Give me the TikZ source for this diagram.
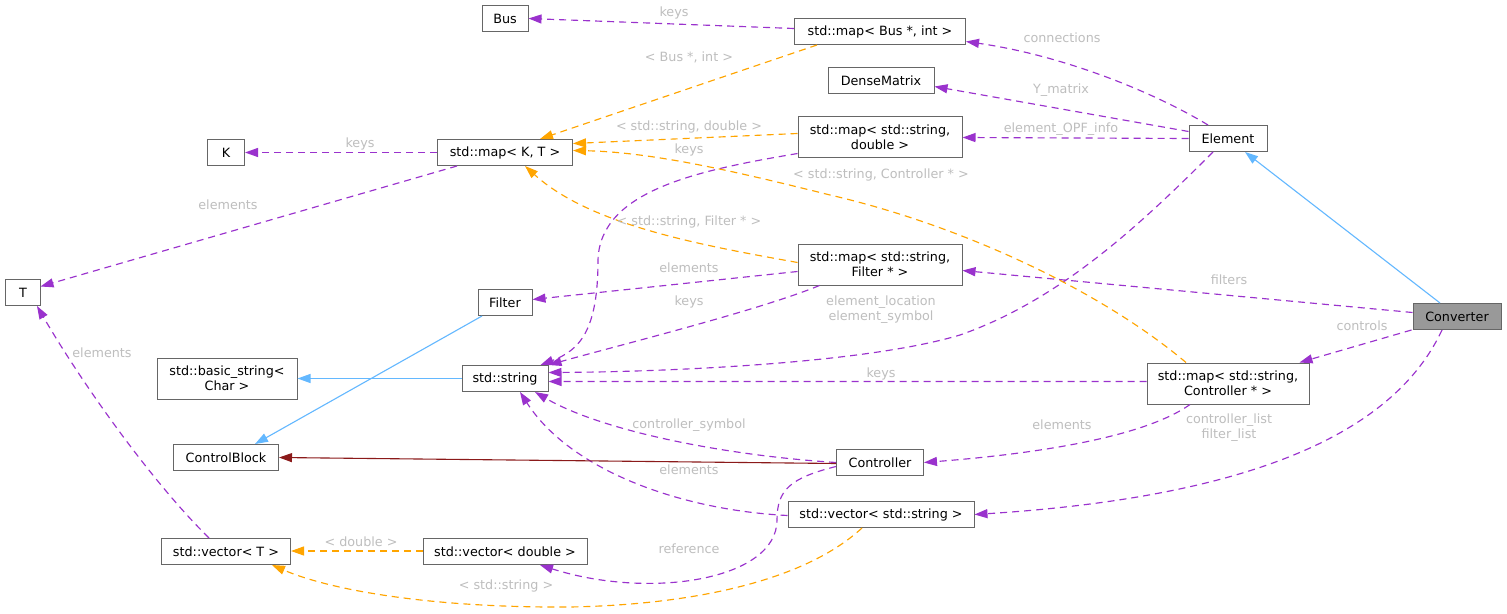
\documentclass[tikz,border=0pt]{standalone}
\usepackage{fontspec}
\setmainfont{DejaVu Sans}
\usetikzlibrary{arrows.meta,calc}
\definecolor{usec}{HTML}{9A32CD}
\definecolor{tplc}{HTML}{FFA500}
\definecolor{pubc}{HTML}{63B8FF}
\definecolor{proc}{HTML}{8B1A1A}
\definecolor{bordc}{HTML}{666666}
\definecolor{labc}{HTML}{BEBEBE}
\definecolor{convc}{HTML}{999999}
\begin{document}
\begin{tikzpicture}[x=1bp,y=-1bp,
  every node/.style={font=\fontsize{12.8}{15}\selectfont},
  box/.style={draw=bordc, line width=1bp, fill=white, inner sep=0pt, minimum height=26bp, align=center},
  dbox/.style={box, minimum height=41bp},
  lab/.style={text=labc, inner sep=0pt, align=center},
  tipa/.style={-{Triangle[length=13bp,width=9bp]}},
  usage/.style={draw=usec, line width=1.15bp, dash pattern=on 7bp off 5bp, tipa},
  tpl/.style={draw=tplc, line width=1.15bp, dash pattern=on 7bp off 5bp, tipa},
  pub/.style={draw=pubc, line width=1.1bp, tipa},
  prot/.style={draw=proc, line width=1.1bp, tipa}]
\fill[white] (0,0) rectangle (1507,614);
\useasboundingbox (0,0) rectangle (1507,614);
% nodes
\node[box, minimum width=46bp] (bus) at (505,18.5) {Bus};
\node[box, minimum width=171bp] (mapbus) at (880,31.5) {std::map< Bus *, int >};
\node[box, minimum width=106bp] (dense) at (881,80.5) {DenseMatrix};
\node[dbox, minimum width=164bp] (mapsd) at (880,137.5) {std::map< std::string,\\double >};
\node[box, minimum width=78bp] (elem) at (1228,138.5) {Element};
\node[box, minimum width=37bp] (K) at (226,152.5) {K};
\node[box, minimum width=135bp] (mapKT) at (505,152.5) {std::map< K, T >};
\node[box, minimum width=34bp] (T) at (23,292.5) {T};
\node[dbox, minimum width=164bp] (mapsf) at (880,264.5) {std::map< std::string,\\Filter * >};
\node[box, minimum width=54bp] (filter) at (505,302.5) {Filter};
\node[box, minimum width=88bp, fill=convc] (conv) at (1457,316.5) {Converter};
\node[dbox, minimum width=140bp] (bstr) at (227,378.5) {std::basic\_string<\\Char >};
\node[box, minimum width=86bp] (str) at (505,378.5) {std::string};
\node[dbox, minimum width=162bp] (mapsc) at (1228,383.5) {std::map< std::string,\\Controller * >};
\node[box, minimum width=105bp] (cblock) at (226,457.5) {ControlBlock};
\node[box, minimum width=87bp] (ctrl) at (880,462.5) {Controller};
\node[box, minimum width=186bp] (vecstr) at (881,514.5) {std::vector< std::string >};
\node[box, minimum width=129bp] (vecT) at (226,551.5) {std::vector< T >};
\node[box, minimum width=164bp] (vecd) at (505,551.5) {std::vector< double >};
% usage edges
\draw[usage] ([yshift=3bp]mapbus.west) -- (bus.east);
\draw[usage] ([xshift=-20bp]elem.north) .. controls (1150,90) and (1060,55) .. ([yshift=-10bp]mapbus.east);
\draw[usage] ([yshift=7bp]elem.west) -- ([yshift=-6bp]dense.east);
\draw[usage] (elem.west) -- (mapsd.east);
\draw[usage] (mapKT.west) -- (K.east);
\draw[usage] ([xshift=20bp]mapKT.south west) -- ([yshift=6bp]T.east);
\draw[usage] ([xshift=-17bp]vecT.north) .. controls (150,480) and (80,380) .. ([xshift=14bp]T.south);
\draw[usage] ([yshift=-7bp]mapsf.west) -- ([yshift=3bp]filter.east);
\draw[usage] ([xshift=22bp]mapsf.south west) .. controls (760,310) and (620,345) .. (str.north east);
\draw[usage] ([yshift=-16bp]mapsd.west) .. controls (700,170) and (600,190) .. (598,260) .. controls (598,330) and (580,350) .. ([xshift=-8bp]str.north east);
\draw[usage] ([xshift=-15bp]elem.south) .. controls (1140,225) and (1060,300) .. (960,335) .. controls (860,365) and (650,372) .. ([yshift=6bp]str.east);
\draw[usage] ([yshift=2bp]mapsc.west) -- ([yshift=-3bp]str.east);
\draw[usage] (ctrl.west) .. controls (720,455) and (600,430) .. ([xshift=30bp]str.south);
\draw[usage] ([yshift=-1bp]vecstr.west) .. controls (680,510) and (570,470) .. ([xshift=15bp]str.south);
\draw[usage] ([yshift=-4bp]ctrl.west) .. controls (790,478) and (777,490) .. (777,520) .. controls (777,580) and (650,600) .. ([xshift=35bp]vecd.south);
\draw[usage] ([yshift=4bp]conv.west) -- ([yshift=-6bp]mapsf.east);
\draw[usage] ([xshift=-1bp]conv.south west) -- ([xshift=-10bp]mapsc.north east);
\draw[usage] ([xshift=-38bp]mapsc.south) .. controls (1140,440) and (1020,455) .. (ctrl.east);
\draw[usage] ([xshift=-15bp]conv.south) .. controls (1400,420) and (1280,495) .. (vecstr.east);
% template edges
\draw[tpl] ([xshift=23bp]mapbus.south west) -- ([xshift=35bp]mapKT.north);
\draw[tpl] ([yshift=4bp]mapsd.west) -- ([yshift=9bp]mapKT.east);
\draw[tpl] ([xshift=-42bp]mapsc.north) .. controls (1100,290) and (960,225) .. (830,195) .. controls (730,170) and (650,152) .. ([yshift=2bp]mapKT.east);
\draw[tpl] ([yshift=2bp]mapsf.west) .. controls (700,245) and (590,225) .. ([xshift=20bp]mapKT.south);
\draw[tpl] ([yshift=0.5bp]vecd.west) -- ([yshift=0.5bp]vecT.east);
\draw[tpl] ([xshift=-19bp]vecstr.south) .. controls (800,585) and (680,605) .. (570,607) .. controls (430,608) and (330,590) .. ([xshift=46bp]vecT.south);
% inheritance
\draw[pub] ([xshift=-17bp]conv.north) -- ([xshift=17bp]elem.south);
\draw[pub] (str.west) -- (bstr.east);
\draw[pub] ([xshift=-23bp]filter.south) -- ([xshift=29bp]cblock.north);
\draw[prot] ([yshift=-1bp]ctrl.west) -- (cblock.east);
% labels
\node[lab] (l1) at (674,13) {keys};
\node[lab] (l2) at (1062,38) {connections};
\node[lab] (l3) at (689,57) {< Bus *, int >};
\node[lab] (l4) at (1061,90) {Y\_matrix};
\node[lab] (l5) at (1061,129) {element\_OPF\_info};
\node[lab] (l6) at (689,127) {< std::string, double >};
\node[lab] (l7) at (360,144) {keys};
\node[lab] (l8) at (689,150) {keys};
\node[lab] (l9) at (881,175) {< std::string, Controller * >};
\node[lab] (l10) at (228,205) {elements};
\node[lab] (l11) at (689,222) {< std::string, Filter * >};
\node[lab] (l12) at (689,268) {elements};
\node[lab] (l13) at (1229,280) {filters};
\node[lab] (l14) at (689,302) {keys};
\node[lab] (l15) at (881,310) {element\_location\\element\_symbol};
\node[lab] (l16) at (1362,326) {controls};
\node[lab] (l17) at (102,353) {elements};
\node[lab] (l18) at (881,374) {keys};
\node[lab] (l19) at (689,425) {controller\_symbol};
\node[lab] (l20) at (1062,425) {elements};
\node[lab] (l21) at (1229,428) {controller\_list\\filter\_list};
\node[lab] (l22) at (689,470) {elements};
\node[lab] (l23) at (361,542) {< double >};
\node[lab] (l24) at (689,549) {reference};
\node[lab] (l25) at (506,586) {< std::string >};
\end{tikzpicture}
\end{document}
